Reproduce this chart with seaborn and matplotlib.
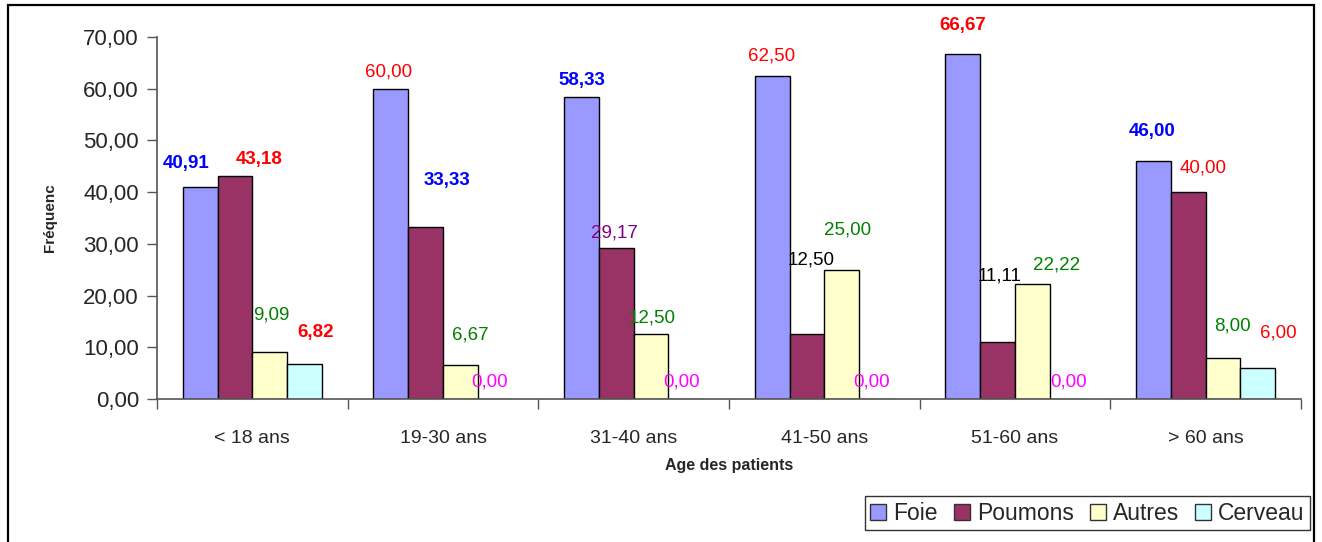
import matplotlib
matplotlib.use("Agg")
import matplotlib.pyplot as plt
import seaborn as sns
import pandas as pd
from matplotlib.patches import Rectangle, Patch

# ---- data ----
categories = ["< 18 ans", "19-30 ans", "31-40 ans", "41-50 ans", "51-60 ans", "> 60 ans"]
series = ["Foie", "Poumons", "Autres", "Cerveau"]
foie = [40.91, 60.00, 58.33, 62.50, 66.67, 46.00]
poumons = [43.18, 33.33, 29.17, 12.50, 11.11, 40.00]
autres = [9.09, 6.67, 12.50, 25.00, 22.22, 8.00]
cerveau = [6.82, 0.00, 0.00, 0.00, 0.00, 6.00]
yticks = [0, 10, 20, 30, 40, 50, 60, 70]

values = {"Foie": foie, "Poumons": poumons, "Autres": autres, "Cerveau": cerveau}
rows = []
for s in series:
    for c, v in zip(categories, values[s]):
        rows.append({"age": c, "organe": s, "freq": v})
df = pd.DataFrame(rows)

# ---- styles ----
palette = {"Foie": "#9999FF", "Poumons": "#993366", "Autres": "#FFFFCC", "Cerveau": "#CCFFFF"}
# label styles per series (rows) and category (cols): colour, bold, offset (px)
lab_color = [
    ["#0000FF", "#FF0000", "#0000FF", "#FF0000", "#FF0000", "#0000FF"],
    ["#FF0000", "#0000FF", "#800080", "#000000", "#000000", "#FF0000"],
    ["#008000", "#008000", "#008000", "#008000", "#008000", "#008000"],
    ["#FF0000", "#FF00FF", "#FF00FF", "#FF00FF", "#FF00FF", "#FF0000"],
]
lab_bold = [
    [True, False, True, False, True, True],
    [True, True, False, False, False, False],
    [False] * 6,
    [True, False, False, False, False, False],
]
lab_off = [
    [(-14, 24), (-2, 17), (0, 17), (-1, 20), (0, 29), (-1, 30)],
    [(24, 16), (21, 46), (-2, 15), (4, 74), (2, 66), (15, 24)],
    [(2, 37), (10, 30), (1, 16), (6, 40), (24, 19), (9, 32)],
    [(11, 31), (-6, 17), (-4, 17), (-5, 17), (1, 17), (20, 35)],
]

sns.set_style("white")
plt.rcParams["font.family"] = ["Liberation Sans", "DejaVu Sans"]

W, H = 1322, 542
fig = plt.figure(figsize=(W / 100, H / 100), dpi=100)
ax = fig.add_axes([157 / W, 1 - 399 / H, (1301 - 157) / W, (399 - 37) / H])

sns.barplot(data=df, x="age", y="freq", hue="organe", order=categories, hue_order=series,
            palette=palette, width=0.73, edgecolor="black", linewidth=1.0,
            saturation=1, ax=ax, legend=False, errorbar=None)

ax.set_xlim(-0.5, 5.5)
ax.set_ylim(0, 70)
ax.set_yticks(yticks)
ax.set_yticklabels([f"{v:.2f}".replace(".", ",") for v in yticks], fontsize=16)
ax.tick_params(axis="y", direction="out", length=7, width=1, color="#555555", pad=6, left=True)
ax.set_xticks(range(len(categories)))
ax.set_xticklabels(categories, fontsize=14)
ax.tick_params(axis="x", which="major", length=0, pad=22)
ax.set_xticks([i - 0.5 for i in range(len(categories) + 1)], minor=True)
ax.tick_params(axis="x", which="minor", direction="out", length=7, width=1, color="#555555", bottom=True)

for side in ["top", "right"]:
    ax.spines[side].set_visible(False)
for side in ["left", "bottom"]:
    ax.spines[side].set_color("#555555")
    ax.spines[side].set_linewidth(1.2)

ax.set_xlabel("Age des patients", fontsize=11.5, fontweight="bold", labelpad=8)
ax.set_ylabel("Fréquenc", fontsize=11, fontweight="bold", labelpad=19)

# value labels
for j, cont in enumerate(ax.containers):
    for i, bar in enumerate(cont):
        v = values[series[j]][i]
        x = bar.get_x() + bar.get_width() / 2
        dx, dy = lab_off[j][i]
        ax.annotate(f"{v:.2f}".replace(".", ","), xy=(x, v), xytext=(dx * 0.72, dy * 0.72),
                    textcoords="offset points", ha="center", va="center", fontsize=13.5,
                    color=lab_color[j][i], fontweight="bold" if lab_bold[j][i] else "normal",
                    annotation_clip=False)

# legend
handles = [Patch(facecolor=palette[s], edgecolor="#333333", linewidth=1) for s in series]
leg = fig.legend(handles, series, ncol=4, loc="upper right",
                 bbox_to_anchor=(1310 / W, 1 - 496 / H), bbox_transform=fig.transFigure,
                 fontsize=16.5, frameon=True, fancybox=False, borderaxespad=0,
                 handlelength=0.7, handleheight=0.7, handletextpad=0.3, columnspacing=0.7,
                 borderpad=0.25)
leg.get_frame().set_edgecolor("black")
leg.get_frame().set_linewidth(1.0)

# outer chart frame
fig.patches.append(Rectangle((8 / W, -0.05), (1314 - 8) / W, 1.05 - 5 / H,
                             transform=fig.transFigure, fill=False, edgecolor="black",
                             linewidth=1.6, zorder=0))

fig.savefig("out.png", dpi=100, facecolor="white")
